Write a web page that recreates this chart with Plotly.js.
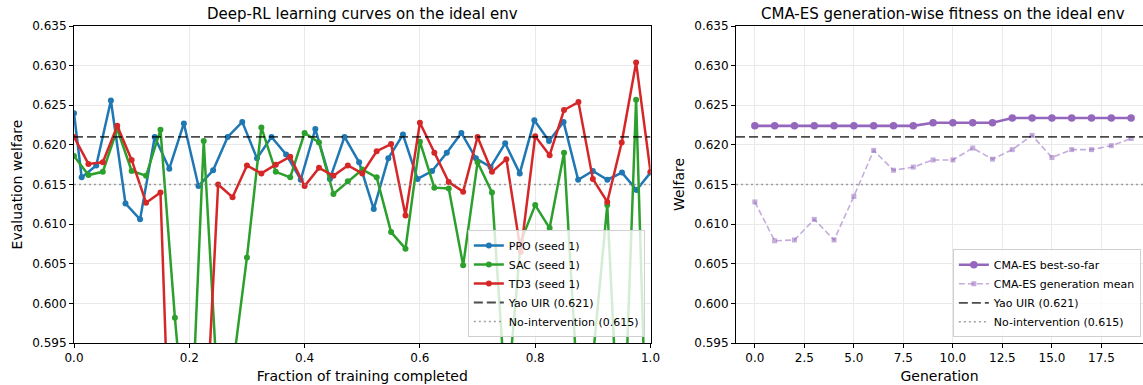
<!DOCTYPE html>
<html>
<head>
<meta charset="utf-8">
<script src="https://cdn.plot.ly/plotly-3.0.1.min.js"></script>
<style>html,body{margin:0;padding:0;background:#fff;}#chart{width:1143px;height:385px;}</style>
</head>
<body>
<div id="chart"></div>
<script>
// ---------- Data ----------
const ppoX = [0, 0.0133, 0.0386, 0.0640, 0.0893, 0.1146, 0.1400, 0.1653, 0.1906, 0.2159, 0.2413,
  0.2666, 0.2919, 0.3173, 0.3426, 0.3679, 0.3933, 0.4186, 0.4439, 0.4692, 0.4946,
  0.5199, 0.5452, 0.5706, 0.5959, 0.6212, 0.6466, 0.6719, 0.6972, 0.7225, 0.7479,
  0.7732, 0.7985, 0.8239, 0.8492, 0.8745, 0.8999, 0.9252, 0.9505, 0.9758, 1.0];
const ppoY = [0.6240, 0.6159, 0.6174, 0.6256, 0.6126, 0.6106, 0.6210, 0.6170, 0.6227, 0.6148, 0.6168,
  0.6210, 0.6229, 0.6183, 0.6210, 0.6188, 0.6156, 0.6220, 0.6157, 0.6210, 0.6178,
  0.6119, 0.6183, 0.6213, 0.6157, 0.6167, 0.6190, 0.6215, 0.6183, 0.6172, 0.6202,
  0.6164, 0.6231, 0.6205, 0.6229, 0.6156, 0.6167, 0.6156, 0.6165, 0.6143, 0.6165];

const offX = [0, 0.025, 0.05, 0.075, 0.1, 0.125, 0.15, 0.175, 0.2, 0.225, 0.25,
  0.275, 0.3, 0.325, 0.35, 0.375, 0.4, 0.425, 0.45, 0.475, 0.5,
  0.525, 0.55, 0.575, 0.6, 0.625, 0.65, 0.675, 0.7, 0.725, 0.75,
  0.775, 0.8, 0.825, 0.85, 0.875, 0.9, 0.925, 0.95, 0.975, 1.0];
const sacY = [0.6186, 0.6162, 0.6166, 0.6220, 0.6167, 0.6161, 0.6219, 0.5982, 0.578, 0.6205, 0.588,
  0.5916, 0.6058, 0.6222, 0.6166, 0.6159, 0.6215, 0.6203, 0.6138, 0.6154, 0.6169,
  0.6159, 0.6090, 0.6069, 0.6204, 0.6146, 0.6145, 0.6048, 0.6178, 0.6140, 0.587,
  0.6078, 0.6124, 0.6095, 0.6190, 0.5874, 0.593, 0.6124, 0.575, 0.6257, 0.565];
const td3Y = [0.6210, 0.6176, 0.6178, 0.6224, 0.6181, 0.6127, 0.6140, 0.561, 0.565, 0.579, 0.6150,
  0.6134, 0.6174, 0.6164, 0.6175, 0.6185, 0.6148, 0.6171, 0.6161, 0.6174, 0.6164,
  0.6192, 0.6201, 0.6111, 0.6228, 0.6190, 0.6153, 0.6141, 0.6210, 0.6166, 0.6182,
  0.6065, 0.6211, 0.6187, 0.6244, 0.6254, 0.6157, 0.6128, 0.6203, 0.6304, 0.6166];

const generations = [0,1,2,3,4,5,6,7,8,9,10,11,12,13,14,15,16,17,18,19];
const cmaBest = [0.6224,0.6224,0.6224,0.6224,0.6224,0.6224,0.6224,0.6224,0.6224,0.6228,
  0.6228,0.6228,0.6228,0.6234,0.6234,0.6234,0.6234,0.6234,0.6234,0.6234];
const cmaMean = [0.6128,0.6079,0.6080,0.6106,0.6080,0.6135,0.6193,0.6168,0.6172,0.6181,
  0.6181,0.6196,0.6182,0.6194,0.6212,0.6184,0.6194,0.6194,0.6199,0.6208];

const yaoUIR = 0.621;
const noIntervention = 0.615;
const yTicks = [0.595,0.600,0.605,0.610,0.615,0.620,0.625,0.630,0.635];

// ---------- Traces ----------
const FONT = 'DejaVu Sans, sans-serif';
const traces = [
  {x: ppoX, y: ppoY, mode:'lines+markers', name:'PPO (seed 1)', xaxis:'x', yaxis:'y', legend:'legend',
   line:{color:'#1f77b4', width:2.5}, marker:{color:'#1f77b4', size:6}},
  {x: offX, y: sacY, mode:'lines+markers', name:'SAC (seed 1)', xaxis:'x', yaxis:'y', legend:'legend',
   line:{color:'#2ca02c', width:2.5}, marker:{color:'#2ca02c', size:6}},
  {x: offX, y: td3Y, mode:'lines+markers', name:'TD3 (seed 1)', xaxis:'x', yaxis:'y', legend:'legend',
   line:{color:'#d62728', width:2.5}, marker:{color:'#d62728', size:6}},
  {x:[0,1], y:[yaoUIR,yaoUIR], mode:'lines', name:'Yao UIR (0.621)', xaxis:'x', yaxis:'y', legend:'legend',
   line:{color:'rgba(0,0,0,0.7)', width:1.8, dash:'9px,4px'}},
  {x:[0,1], y:[noIntervention,noIntervention], mode:'lines', name:'No-intervention (0.615)', xaxis:'x', yaxis:'y', legend:'legend',
   line:{color:'rgba(128,128,128,0.75)', width:1.6, dash:'2px,3px'}},

  {x: generations, y: cmaMean, mode:'lines+markers', name:'CMA-ES generation mean', xaxis:'x2', yaxis:'y2', legend:'legend2',
   line:{color:'rgba(148,103,189,0.55)', width:1.6, dash:'6px,3px'}, marker:{color:'rgba(148,103,189,0.55)', size:5, symbol:'square'}},
  {x: generations, y: cmaBest, mode:'lines+markers', name:'CMA-ES best-so-far', xaxis:'x2', yaxis:'y2', legend:'legend2',
   line:{color:'#9467bd', width:2.6}, marker:{color:'#9467bd', size:7.5}},
  {x:[-0.95,19.95], y:[yaoUIR,yaoUIR], mode:'lines', name:'Yao UIR (0.621)', xaxis:'x2', yaxis:'y2', legend:'legend2',
   line:{color:'rgba(0,0,0,0.7)', width:1.8, dash:'9px,4px'}},
  {x:[-0.95,19.95], y:[noIntervention,noIntervention], mode:'lines', name:'No-intervention (0.615)', xaxis:'x2', yaxis:'y2', legend:'legend2',
   line:{color:'rgba(128,128,128,0.75)', width:1.6, dash:'2px,3px'}}
];

const axisBase = {
  showgrid:true, gridcolor:'#e9e9e9', gridwidth:1, zeroline:false,
  showline:true, linecolor:'#000', linewidth:1,
  ticks:'outside', ticklen:4, tickwidth:1, tickcolor:'#000',
  tickfont:{family:FONT, size:12, color:'#000'}
};

const legendBase = {
  bgcolor:'rgba(255,255,255,0.8)', bordercolor:'#d0d0d0', borderwidth:1,
  font:{family:FONT, size:11, color:'#000'}, xanchor:'right', yanchor:'bottom',
  itemwidth:30, tracegroupgap:0
};

const layout = {
  width:1143, height:385,
  margin:{l:74, r:0, t:26, b:42},
  paper_bgcolor:'#fff', plot_bgcolor:'#fff',
  font:{family:FONT, color:'#000'},
  showlegend:true,
  xaxis: Object.assign({}, axisBase, {domain:[0,0.5393], range:[0,1], tickvals:[0,0.2,0.4,0.6,0.8,1.0],
    tickformat:'.1f', mirror:true, anchor:'y',
    title:{text:'Fraction of training completed', font:{family:FONT, size:14}, standoff:6}}),
  yaxis: Object.assign({}, axisBase, {range:[0.595,0.635], tickvals:yTicks, tickformat:'.3f', mirror:true, anchor:'x',
    title:{text:'Evaluation welfare', font:{family:FONT, size:14}, standoff:6}}),
  xaxis2: Object.assign({}, axisBase, {domain:[0.6193,1], range:[-0.95,19.6], tick0:0, dtick:2.5,
    tickformat:'.1f', mirror:true, anchor:'y2',
    title:{text:'Generation', font:{family:FONT, size:14}, standoff:6}}),
  yaxis2: Object.assign({}, axisBase, {range:[0.595,0.635], tickvals:yTicks, tickformat:'.3f', mirror:false, anchor:'x2',
    title:{text:'Welfare', font:{family:FONT, size:14}, standoff:6}}),
  legend: Object.assign({}, legendBase, {x:0.534, y:0.019}),
  legend2: Object.assign({}, legendBase, {x:0.998, y:0.018,
    traceorder:'normal'}),
  annotations:[
    {text:'Deep-RL learning curves on the ideal env', xref:'paper', yref:'paper', x:0.2696, y:1.038,
     xanchor:'center', yanchor:'middle', showarrow:false, font:{family:FONT, size:15, color:'#000'}},
    {text:'CMA-ES generation-wise fitness on the ideal env', xref:'paper', yref:'paper', x:0.8129, y:1.038,
     xanchor:'center', yanchor:'middle', showarrow:false, font:{family:FONT, size:15, color:'#000'}}
  ]
};

// reorder legend2 so best-so-far appears first (drawn after mean)
traces[5].legendrank = 2;
traces[6].legendrank = 1;
traces[7].legendrank = 3;
traces[8].legendrank = 4;

Plotly.newPlot('chart', traces, layout, {displayModeBar:false, staticPlot:true});
</script>
</body>
</html>
